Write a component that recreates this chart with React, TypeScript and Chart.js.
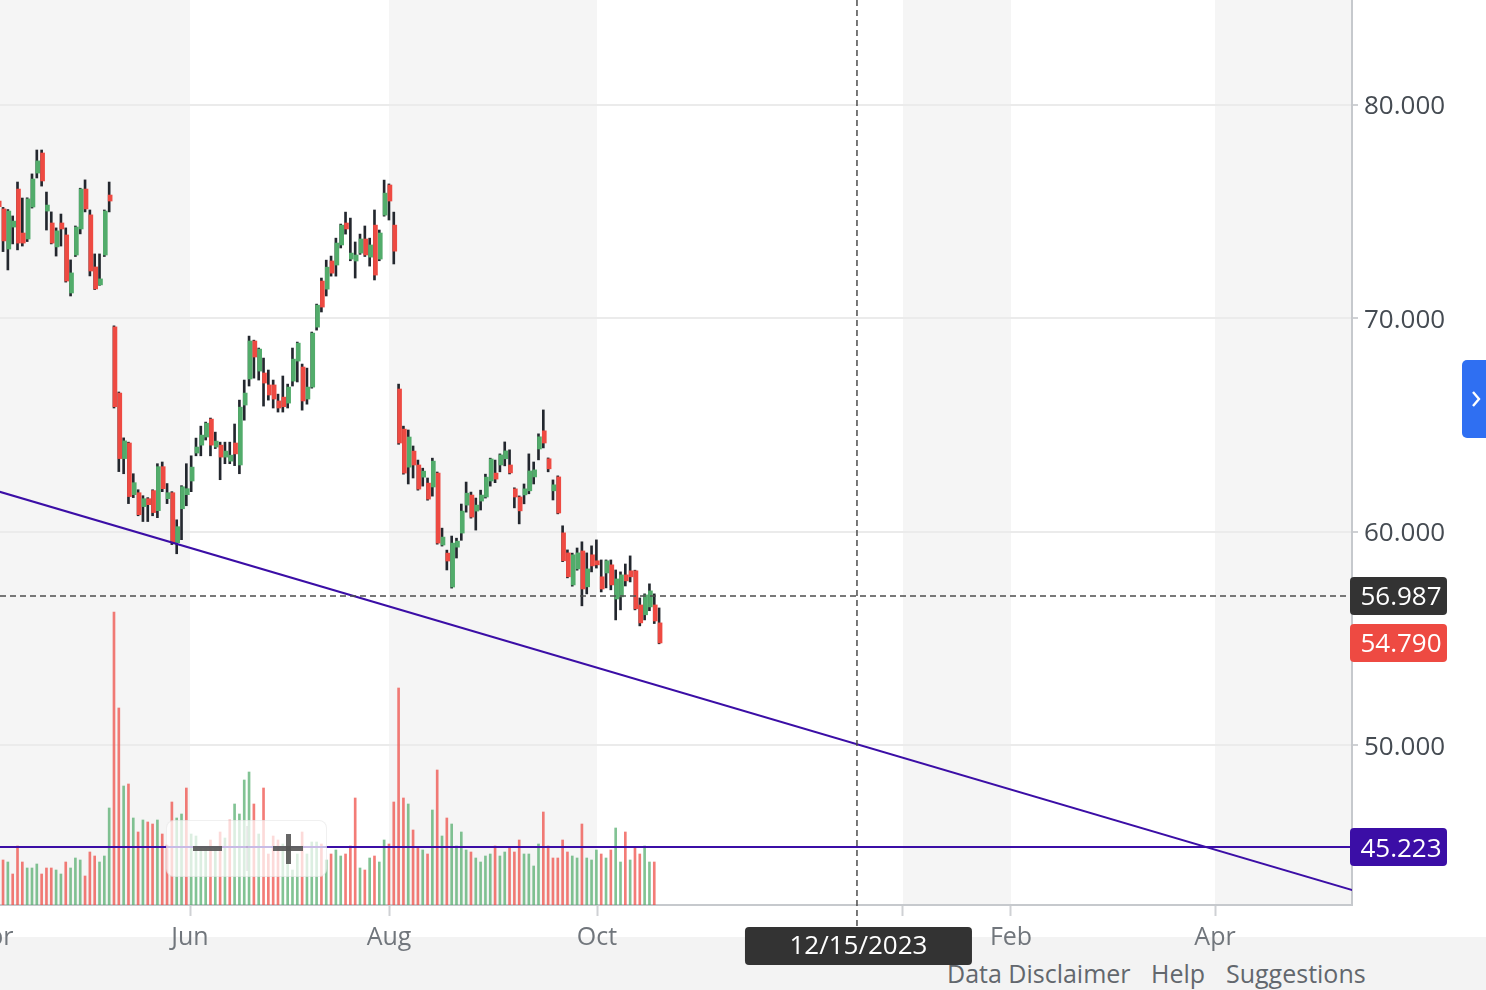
import React, { useEffect, useRef } from 'react';
import { Chart, registerables } from 'chart.js';

Chart.register(...registerables);

// ---- Data (trading-day index 0..137) ----
const OPEN = [
  75.50, 75.13, 73.25, 74.28, 76.06, 74.00, 73.72, 75.22, 76.81, 77.75,
  75.03, 74.47, 73.35, 74.47, 73.91, 71.19, 72.97, 74.19, 76.06, 74.85,
  72.41, 71.57, 72.97, 75.78, 69.60, 66.50, 63.43, 64.16, 61.74, 61.83,
  61.18, 61.55, 61.93, 60.99, 63.05, 61.55, 61.83, 59.49, 61.08, 61.74,
  62.38, 63.69, 64.06, 64.44, 65.28, 63.97, 64.06, 63.50, 63.31, 64.16,
  63.13, 65.94, 67.16, 68.94, 67.53, 67.44, 66.88, 66.88, 66.13, 66.31,
  66.03, 67.06, 68.00, 67.72, 66.22, 66.78, 69.59, 71.75, 71.37, 72.69,
  72.50, 73.44, 74.47, 72.78, 72.69, 73.06, 73.72, 72.87, 74.37, 72.78,
  74.84, 76.25, 74.37, 66.69, 64.81, 63.03, 63.78, 63.13, 62.56, 62.28,
  62.10, 62.75, 59.38, 59.00, 57.41, 59.28, 59.94, 61.25, 61.72, 60.97,
  61.44, 61.63, 62.38, 62.75, 63.13, 63.42, 63.13, 62.01, 61.63, 61.73,
  61.92, 62.57, 63.88, 64.73, 63.42, 61.92, 62.57, 59.95, 59.01, 57.51,
  58.26, 59.10, 57.42, 58.92, 58.64, 57.89, 58.07, 58.45, 56.85, 56.95,
  57.98, 58.17, 58.17, 56.57, 56.11, 56.48, 56.57, 55.73,
];
const HIGH = [
  75.70, 75.20, 75.10, 74.80, 76.39, 75.64, 75.65, 76.77, 77.89, 77.89,
  75.92, 74.99, 74.24, 74.89, 74.24, 72.74, 74.33, 76.10, 76.49, 75.08,
  73.02, 73.02, 75.08, 76.39, 69.65, 66.55, 64.40, 64.20, 62.72, 61.97,
  61.69, 61.60, 61.97, 63.19, 63.27, 62.26, 61.88, 60.56, 62.16, 63.19,
  63.56, 64.39, 64.95, 65.14, 65.33, 64.67, 64.20, 64.20, 64.20, 65.05,
  66.17, 67.11, 69.17, 68.98, 68.61, 68.14, 67.58, 67.11, 66.45, 67.30,
  66.92, 68.61, 68.89, 67.86, 67.67, 69.36, 70.67, 71.89, 72.73, 72.92,
  73.76, 74.42, 74.98, 74.70, 73.58, 73.95, 74.33, 73.76, 75.08, 74.14,
  76.48, 76.30, 74.98, 66.92, 64.95, 64.77, 64.02, 63.36, 62.98, 62.52,
  63.45, 62.80, 60.17, 59.14, 59.80, 59.70, 61.30, 62.33, 61.86, 61.58,
  61.95, 62.70, 63.45, 63.36, 63.65, 64.21, 63.84, 62.06, 61.68, 62.24,
  63.65, 63.27, 64.59, 65.71, 63.46, 62.43, 62.62, 60.28, 59.15, 59.00,
  59.24, 59.53, 59.01, 59.34, 59.62, 58.68, 58.68, 58.68, 58.21, 58.12,
  58.49, 58.87, 58.20, 56.90, 57.09, 57.56, 57.09, 56.43,
];
const LOW = [
  74.90, 73.13, 72.27, 73.49, 73.21, 73.39, 73.60, 75.17, 76.58, 76.20,
  74.14, 73.49, 72.92, 73.39, 71.70, 71.05, 72.90, 73.96, 74.99, 71.99,
  71.35, 71.55, 72.90, 74.99, 65.80, 62.82, 62.72, 61.32, 61.60, 60.75,
  60.48, 60.48, 60.75, 60.66, 61.88, 61.32, 59.40, 58.97, 59.63, 61.22,
  61.88, 63.56, 63.56, 64.30, 63.56, 63.90, 62.44, 63.19, 63.19, 63.10,
  62.72, 65.23, 66.83, 67.20, 67.11, 65.89, 66.17, 65.80, 65.61, 65.61,
  65.80, 66.83, 67.02, 65.70, 65.98, 66.73, 69.45, 70.30, 71.05, 71.98,
  71.98, 73.30, 73.95, 72.70, 71.89, 73.00, 72.90, 72.45, 71.80, 72.70,
  74.79, 74.61, 72.55, 64.10, 62.70, 62.24, 62.52, 61.95, 62.14, 61.48,
  61.67, 59.42, 59.33, 58.21, 57.36, 58.77, 59.60, 60.92, 60.64, 60.08,
  61.02, 61.58, 62.14, 62.30, 62.81, 63.09, 62.71, 61.12, 60.37, 61.31,
  61.78, 62.24, 63.37, 63.93, 62.81, 61.49, 60.84, 58.60, 57.84, 57.45,
  58.20, 56.53, 57.09, 58.12, 58.30, 57.18, 57.37, 57.28, 55.87, 56.34,
  57.46, 57.65, 56.34, 55.59, 55.87, 56.30, 55.70, 54.75,
];
const CLOSE = [
  75.24, 73.63, 75.03, 74.56, 73.53, 73.53, 75.60, 76.53, 77.38, 76.44,
  75.31, 73.53, 74.10, 74.19, 71.75, 72.13, 74.28, 76.06, 75.13, 72.22,
  71.38, 71.85, 75.03, 75.50, 65.86, 63.43, 64.26, 61.65, 62.30, 60.80,
  61.55, 61.27, 60.90, 63.05, 62.02, 61.83, 59.49, 60.24, 62.11, 62.02,
  63.03, 63.97, 64.53, 65.09, 64.06, 64.25, 63.50, 63.78, 63.59, 63.65,
  65.84, 66.50, 68.94, 68.19, 68.56, 66.97, 66.41, 66.22, 65.80, 65.86,
  66.78, 68.09, 68.84, 66.13, 66.78, 69.31, 70.62, 70.53, 72.40, 72.12,
  73.53, 74.37, 74.19, 73.06, 72.97, 73.72, 72.97, 73.44, 72.03, 74.00,
  75.87, 75.50, 73.15, 64.16, 62.75, 64.44, 63.13, 62.00, 62.84, 61.53,
  63.31, 59.47, 59.75, 58.63, 59.47, 59.56, 60.97, 61.81, 60.69, 61.25,
  61.72, 62.56, 63.41, 62.47, 63.60, 63.79, 62.76, 61.63, 60.98, 62.01,
  62.85, 62.90, 64.45, 64.16, 62.95, 62.20, 60.88, 58.64, 57.89, 58.92,
  59.01, 57.32, 58.26, 58.40, 58.45, 57.32, 58.64, 57.51, 57.79, 57.98,
  57.70, 57.89, 56.39, 55.73, 57.04, 57.23, 55.82, 54.79,
];
// volume in millions
const VOLUME: (number | null)[] = [
  4.0, 4.5, 4.3, 3.1, 5.9, 4.3, 3.7, 3.7, 4.1, 3.1,
  3.7, 3.7, 3.5, 3.1, 4.3, 3.7, 4.7, 4.5, 2.9, 5.3,
  4.9, 4.3, 4.9, 9.7, 29.3, 19.7, 11.9, 12.1, 8.7, 7.3,
  8.5, 8.3, 8.1, 8.5, 7.1, 6.0, 10.3, 8.7, 9.1, 11.7,
  7.1, 6.9, 5.8, 5.8, 6.5, 5.8, 7.3, 6.7, 8.5, 10.1,
  9.1, 12.5, 13.3, 10.1, 7.1, 11.7, 5.1, 6.9, 6.5, 6.1,
  5.5, 3.5, 5.1, 7.3, 5.1, 6.3, 6.3, 6.1, 4.5, 5.1,
  5.5, 4.9, 5.1, 5.9, 10.7, 3.7, 3.5, 4.7, 4.9, 4.3,
  6.5, 6.1, 10.3, 21.7, 10.7, 10.1, 7.5, 5.7, 5.5, 5.1,
  9.5, 13.5, 6.9, 8.7, 8.1, 5.9, 7.3, 5.5, 5.3, 4.7,
  4.3, 4.9, 5.1, 5.9, 4.9, 5.3, 5.7, 5.3, 6.5, 5.1,
  5.1, 3.9, 6.1, 9.3, 5.9, 4.7, 4.7, 6.5, 5.3, 4.9,
  4.7, 8.1, 4.7, 4.5, 5.5, 5.1, 4.7, 5.5, 7.7, 4.3,
  7.3, 4.5, 5.7, 5.1, 5.9, 4.3, 4.3, null,
];

// x axis (trading-day index space)
const X_MIN = 0.17;
const X_MAX = 280.44;
const WICK_SHIFT = 0.2;
const X_FIRST_TICK = -1.3; // "Apr" just left of the visible range
const X_FIRST_LABEL = 'Apr';
const X_TICK_POS = [39.56, 80.81, 123.93, 187.36, 209.75, 252.04];
const X_TICK_LABELS = ['Jun', 'Aug', 'Oct', '2024', 'Feb', 'Apr'];

// y axis
const Y_MIN = 42.51;
const Y_MAX = 84.92;
const Y_TICKS = [50, 60, 70, 80];
const VOL_MAX = 90.5;

// annotations
const TREND = [
  { x: 0, y: 61.88 },
  { x: 290, y: 42.58 },
];
const SUPPORT = 45.223;
const CROSS_Y = 56.987;
const CROSS_X = 177.82;
const CROSS_DATE = '12/15/2023';

const GREEN = '#52ac6b';
const RED = '#ee4a42';
const WICK = '#23272e';
const VOL_GREEN = 'rgba(82,172,107,0.72)';
const VOL_RED = 'rgba(238,74,66,0.72)';
const PURPLE = '#3b0ea6';
const FONT = "'Open Sans', 'Noto Sans', sans-serif";

function roundBox(ctx: CanvasRenderingContext2D, x: number, y: number, w: number, h: number, r: number, fill: string) {
  ctx.beginPath();
  ctx.roundRect(x, y, w, h, r);
  ctx.fillStyle = fill;
  ctx.fill();
}

const decorPlugin = {
  id: 'decor',
  beforeDraw(chart: any) {
    const { ctx, chartArea, scales } = chart;
    const { left, right, top, bottom } = chartArea;
    const x = scales.x;
    ctx.save();
    ctx.beginPath();
    ctx.rect(left, top, right - left, bottom - top);
    ctx.clip();
    ctx.fillStyle = '#ffffff';
    ctx.fillRect(left, top, right - left, bottom - top);
    const edges = [X_FIRST_TICK, ...X_TICK_POS];
    ctx.fillStyle = '#f5f5f5';
    for (let i = 0; i < edges.length; i += 2) {
      const a = x.getPixelForValue(edges[i]);
      const b = i + 1 < edges.length ? x.getPixelForValue(edges[i + 1]) : right;
      ctx.fillRect(a, top, b - a, bottom - top);
    }
    ctx.restore();
  },
  afterDatasetsDraw(chart: any) {
    const { ctx, chartArea, scales } = chart;
    const { left, right, top, bottom } = chartArea;
    const cy = scales.y.getPixelForValue(CROSS_Y);
    const cx = scales.x.getPixelForValue(CROSS_X);
    ctx.save();
    ctx.strokeStyle = '#4d4d4d';
    ctx.lineWidth = 1.5;
    ctx.setLineDash([6, 4]);
    ctx.beginPath();
    ctx.moveTo(left, cy);
    ctx.lineTo(right, cy);
    ctx.stroke();
    ctx.beginPath();
    ctx.moveTo(cx, top);
    ctx.lineTo(cx, bottom + 22);
    ctx.stroke();
    ctx.restore();
  },
  afterDraw(chart: any) {
    const { ctx, chartArea, scales } = chart;
    const y = scales.y;
    const x = scales.x;
    ctx.save();
    // partially visible first month label
    ctx.font = `25px ${FONT}`;
    ctx.fillStyle = '#71767c';
    ctx.textAlign = 'center';
    ctx.textBaseline = 'middle';
    ctx.fillText(X_FIRST_LABEL, x.getPixelForValue(X_FIRST_TICK), chartArea.bottom + 33);

    // right-side value labels
    const boxes: [number, string][] = [
      [CROSS_Y, '#333333'],
      [CLOSE[CLOSE.length - 1], RED],
      [SUPPORT, PURPLE],
    ];
    ctx.font = `26px ${FONT}`;
    for (const [v, col] of boxes) {
      const py = y.getPixelForValue(v);
      roundBox(ctx, chartArea.right - 2, py - 19, 97, 38, 4, col);
      ctx.fillStyle = '#ffffff';
      ctx.textAlign = 'center';
      ctx.textBaseline = 'middle';
      ctx.fillText(v.toFixed(3), chartArea.right + 49, py + 2);
    }
    // crosshair date label
    const cx = x.getPixelForValue(CROSS_X);
    roundBox(ctx, cx - 112, chartArea.bottom + 22, 227, 38, 4, '#333333');
    ctx.fillStyle = '#ffffff';
    ctx.font = `26px ${FONT}`;
    ctx.textAlign = 'center';
    ctx.textBaseline = 'middle';
    ctx.fillText(CROSS_DATE, cx + 1.5, chartArea.bottom + 42);
    ctx.restore();
  },
};

export default function App() {
  const ref = useRef<HTMLCanvasElement>(null);

  useEffect(() => {
    document.body.style.margin = '0';
    const idx = OPEN.map((_, i) => i);
    const bodyColors = idx.map((i) => (CLOSE[i] > OPEN[i] ? GREEN : RED));
    const volColors = idx.map((i) =>
      i === 0 ? (CLOSE[0] > OPEN[0] ? VOL_GREEN : VOL_RED) : CLOSE[i] > CLOSE[i - 1] ? VOL_GREEN : VOL_RED
    );

    const chart = new Chart(ref.current as HTMLCanvasElement, {
      type: 'bar',
      data: {
        datasets: [
          {
            type: 'line',
            label: 'Trend',
            data: TREND,
            xAxisID: 'x',
            yAxisID: 'y',
            borderColor: PURPLE,
            borderWidth: 2,
            pointRadius: 0,
            order: 1,
          } as any,
          {
            type: 'line',
            label: 'Support',
            data: [
              { x: X_MIN - 1, y: SUPPORT },
              { x: X_MAX + 1, y: SUPPORT },
            ],
            xAxisID: 'x',
            yAxisID: 'y',
            borderColor: PURPLE,
            borderWidth: 2,
            pointRadius: 0,
            order: 1,
          } as any,
          {
            type: 'bar',
            label: 'Body',
            data: idx.map((i) => ({ x: i, y: [OPEN[i], CLOSE[i]] })),
            xAxisID: 'x',
            yAxisID: 'y',
            backgroundColor: bodyColors,
            barThickness: 4,
            minBarLength: 1,
            grouped: false,
            borderWidth: 0,
            order: 2,
          } as any,
          {
            type: 'bar',
            label: 'Wick',
            data: idx.map((i) => ({ x: i, y: [LOW[i], HIGH[i]] })),
            xAxisID: 'xw',
            yAxisID: 'y',
            backgroundColor: WICK,
            barThickness: 2,
            grouped: false,
            borderWidth: 0,
            order: 3,
          } as any,
          {
            type: 'bar',
            label: 'Volume',
            data: idx.map((i) => ({ x: i, y: VOLUME[i] })),
            xAxisID: 'xw',
            yAxisID: 'yv',
            backgroundColor: volColors,
            barThickness: 2,
            grouped: false,
            borderWidth: 0,
            order: 4,
          } as any,
        ],
      },
      options: {
        animation: false,
        responsive: false,
        maintainAspectRatio: false,
        layout: { padding: 0 },
        plugins: {
          legend: { display: false },
          tooltip: { enabled: false },
        },
        scales: {
          x: {
            type: 'linear',
            position: 'bottom',
            min: X_MIN,
            max: X_MAX,
            offset: false,
            afterBuildTicks: (s: any) => {
              s.ticks = X_TICK_POS.map((v) => ({ value: v }));
            },
            afterFit: (s: any) => {
              s.height = 85;
              s.paddingLeft = 0;
              s.paddingRight = 0;
            },
            ticks: {
              autoSkip: false,
              maxRotation: 0,
              padding: 7,
              color: '#71767c',
              font: { family: FONT, size: 25 },
              callback: (_v: any, i: number) => X_TICK_LABELS[i],
            },
            grid: {
              offset: false,
              drawOnChartArea: false,
              drawTicks: true,
              tickLength: 11,
              tickColor: '#cfd1d4',
              tickWidth: 2,
            },
            border: { display: true, color: '#c6c9cd', width: 2 },
          },
          xw: {
            type: 'linear',
            display: false,
            min: X_MIN + WICK_SHIFT,
            max: X_MAX + WICK_SHIFT,
            offset: false,
          },
          y: {
            type: 'linear',
            position: 'right',
            min: Y_MIN,
            max: Y_MAX,
            afterBuildTicks: (s: any) => {
              s.ticks = Y_TICKS.map((v) => ({ value: v }));
            },
            afterFit: (s: any) => {
              s.width = 134;
              s.paddingTop = 0;
              s.paddingBottom = 0;
            },
            ticks: {
              padding: 6,
              labelOffset: 2,
              color: '#454b52',
              font: { family: FONT, size: 26 },
              callback: (v: any) => Number(v).toFixed(3),
            },
            grid: {
              offset: false,
              color: '#ebebeb',
              lineWidth: 2,
              tickLength: 6,
              tickColor: '#cfd1d4',
              tickWidth: 2,
            },
            border: { display: true, color: '#c6c9cd', width: 2 },
          },
          yv: {
            type: 'linear',
            display: false,
            min: 0,
            max: VOL_MAX,
          },
        },
      } as any,
      plugins: [decorPlugin],
    });
    return () => chart.destroy();
  }, []);

  const footText: React.CSSProperties = {
    position: 'absolute',
    top: 956,
    fontFamily: FONT,
    fontSize: 25,
    lineHeight: '34px',
    color: '#62676d',
    whiteSpace: 'nowrap',
  };

  return (
    <div style={{ position: 'relative', width: 1486, height: 990, overflow: 'hidden', background: '#ffffff' }}>
      <div style={{ position: 'absolute', left: 0, top: 937, width: 1486, height: 53, background: '#f3f3f3' }} />
      <span style={{ ...footText, left: 947 }}>Data Disclaimer</span>
      <span style={{ ...footText, left: 1151 }}>Help</span>
      <span style={{ ...footText, left: 1226 }}>Suggestions</span>
      <canvas
        ref={ref}
        width={1486}
        height={990}
        style={{ position: 'absolute', left: 0, top: 0, width: 1486, height: 990 }}
      />
      <div
        style={{
          position: 'absolute',
          left: 166,
          top: 820,
          width: 161,
          height: 57,
          background: 'rgba(255,255,255,0.72)',
          border: '1px solid rgba(0,0,0,0.06)',
          borderRadius: 8,
          boxSizing: 'border-box',
        }}
      >
        <div style={{ position: 'absolute', left: 26, top: 25, width: 29, height: 5, background: 'rgba(85,85,85,0.9)' }} />
        <div style={{ position: 'absolute', left: 79, top: 5, width: 2, height: 45, background: 'rgba(0,0,0,0.07)' }} />
        <div style={{ position: 'absolute', left: 106, top: 25, width: 30, height: 5, background: 'rgba(85,85,85,0.9)' }} />
        <div style={{ position: 'absolute', left: 118.5, top: 13, width: 5, height: 30, background: 'rgba(85,85,85,0.9)' }} />
      </div>
      <div
        style={{
          position: 'absolute',
          left: 1462,
          top: 360,
          width: 24,
          height: 78,
          background: '#2f6ff2',
          borderRadius: '5px 0 0 5px',
        }}
      >
        <svg width="24" height="78" style={{ position: 'absolute', left: 0, top: 0 }}>
          <polyline points="11,32 17,39 11,46" fill="none" stroke="#ffffff" strokeWidth="2.4" />
        </svg>
      </div>
    </div>
  );
}
